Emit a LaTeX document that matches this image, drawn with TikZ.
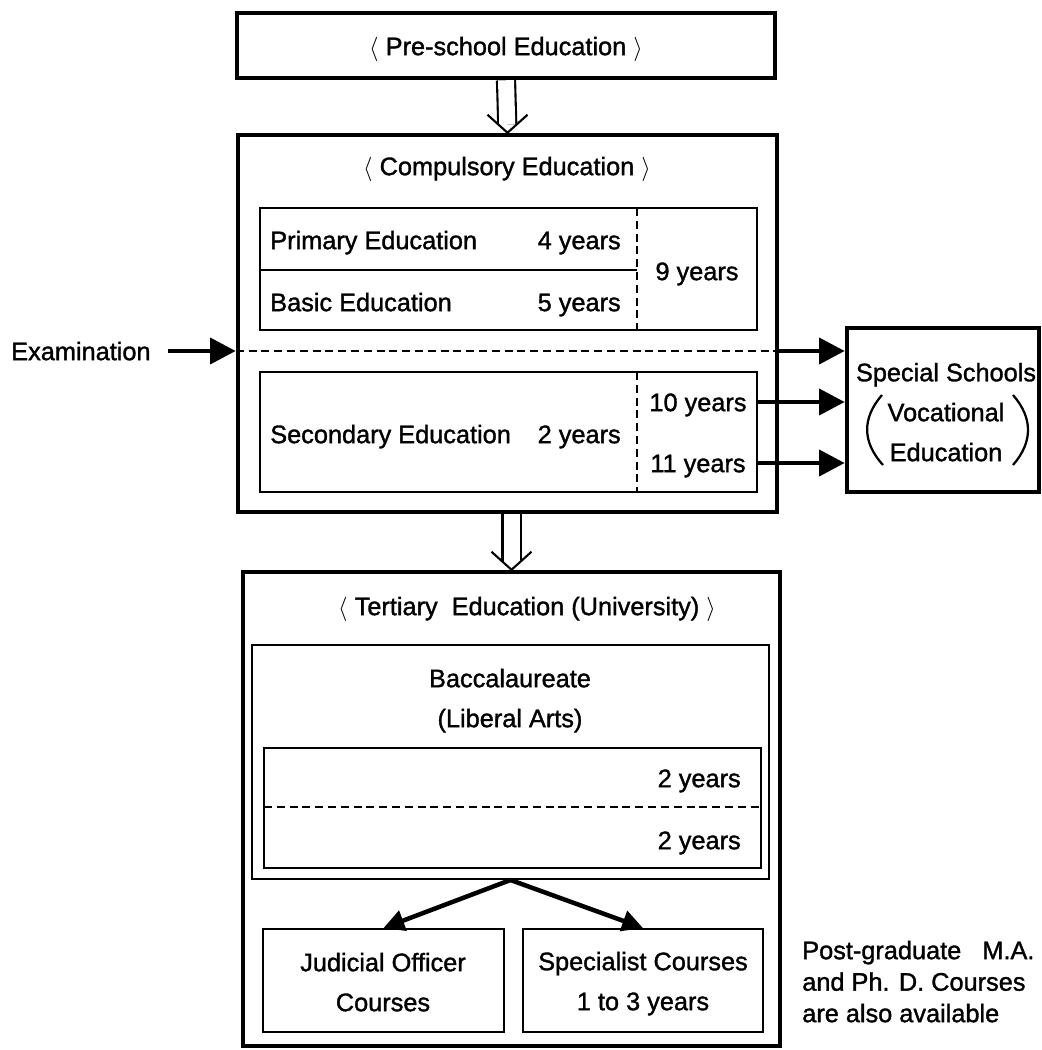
\documentclass[tikz,border=0pt]{standalone}
\usepackage{fontspec}
\setmainfont{Liberation Sans}[FakeBold=1.3]
\usetikzlibrary{arrows.meta, fit, positioning}

\tikzset{
  txt/.style={font=\fontsize{18}{28.4}\selectfont, inner sep=0pt, text height=13pt, text depth=0pt},
  heavybox/.style={draw, line width=3.2pt, inner sep=0pt},
  lightbox/.style={draw, line width=1.4pt, inner sep=0pt},
  divline/.style={line width=1.4pt},
  dashline/.style={line width=1.3pt, dash pattern=on 0.2cm off 0.12cm},
  bigarrow/.style={line width=3.4pt, -{Triangle[length=0.64cm, width=0.64cm]}},
  midarrow/.style={line width=3.2pt, -{Triangle[length=0.52cm, width=0.52cm]}},
  passline/.style={double, double distance=0.4cm, line width=1.5pt, shorten >=0.2cm},
  vhead/.style={line width=1.5pt},
  paren/.style={line width=1.6pt}
}

\begin{document}
\begin{tikzpicture}[x=0.025cm, y=-0.025cm]
  \useasboundingbox (0,0) rectangle (1041,1050);

  \node[heavybox, fit={(237,13) (775,78)}] (pre) {};
  \node[txt] (pretitle) at (506,46) {$\langle$ Pre-school Education $\rangle$};

  \node[heavybox, fit={(238,135) (777,512)}] (comp) {};
  \node[txt] (comptitle) at (507,166) {$\langle$ Compulsory Education $\rangle$};
  \node[lightbox, fit={(260,208) (757,330)}] (core) {};
  \node[lightbox, fit={(260,372) (757,492)}] (sec) {};
  \node[txt, anchor=west] (prim) at (270,240) {Primary Education};
  \node[txt, anchor=east] (primy) at (621,240) {4 years};
  \node[txt, anchor=west] (basic) at (270,302) {Basic Education};
  \node[txt, anchor=east] (basicy) at (621,302) {5 years};
  \node[txt] (nine) at (697,271) {9 years};
  \node[txt, anchor=west] (secn) at (270,434) {Secondary Education};
  \node[txt, anchor=east] (secy) at (621,434) {2 years};
  \node[txt] (ten) at (698,402) {10 years};
  \node[txt] (eleven) at (698,463) {11 years};
  \draw[divline] (260,270) -- (637,270);
  \draw[dashline] (637,208) -- (637,330);
  \draw[dashline] (637,372) -- (637,492);

  \node[txt, anchor=west] (exam) at (11,351) {Examination};
  \draw[dashline] (comp.west |- exam) -- (comp.east |- exam);
  \draw[bigarrow, shorten <=0.42cm] (exam) -- (comp.west |- exam);

  \node[heavybox, fit={(847,328) (1039,492)}] (spec) {};
  \node[txt, align=center] (spectext) at (946,452) {Special Schools\\Vocational\\Education};
  \draw[paren] (882,395) .. controls (862,418) and (862,442) .. (883,465);
  \draw[paren] (1013,395) .. controls (1033,418) and (1033,442) .. (1013,465);
  \draw[bigarrow] (comp.east |- exam) -- (spec.west |- exam);
  \draw[bigarrow] (sec.east |- ten) -- (spec.west |- ten);
  \draw[bigarrow] (sec.east |- eleven) -- (spec.west |- eleven);

  \node[heavybox, fit={(243,572) (780,1046)}] (tert) {};
  \node[txt] (terttitle) at (527,606) {$\langle$ Tertiary\ \ Education (University) $\rangle$};
  \node[lightbox, fit={(252,645) (769,879)}] (bacc) {};
  \node[txt, align=center] (bacctext) at (510,718) {Baccalaureate\\(Liberal Arts)};
  \node[lightbox, fit={(264,748) (761,868)}] (years) {};
  \draw[dashline] (264,807) -- (761,807);
  \node[txt, anchor=east] (firsty) at (741,778) {2 years};
  \node[txt, anchor=east] (secondy) at (741,840) {2 years};
  \node[lightbox, fit={(263,929) (504,1032)}] (jud) {};
  \node[txt, align=center] (judtext) at (383,1002) {Judicial Officer\\Courses};
  \node[lightbox, fit={(523,929) (763,1032)}] (spc) {};
  \node[txt, align=center] (spctext) at (643,1001) {Specialist Courses\\1 to 3 years};
  \draw[midarrow] (bacc.south) -- (jud.north);
  \draw[midarrow] (bacc.south) -- (spc.north);

  \draw[passline] (pre.south) -- (comp.north);
  \draw[vhead] (comp.north) ++(-20,-18) -- (comp.north) -- ++(20,-18);
  \draw[passline] (comp.south -| tert.north) -- (tert.north);
  \draw[vhead] (tert.north) ++(-20,-18) -- (tert.north) -- ++(20,-18);

  \node[txt, align=left, anchor=west, font=\fontsize{18}{22.4}\selectfont] (post) at (802,1013) {Post-graduate\ \ \ M.A.\\and Ph. D. Courses\\are also available};
\end{tikzpicture}
\end{document}
